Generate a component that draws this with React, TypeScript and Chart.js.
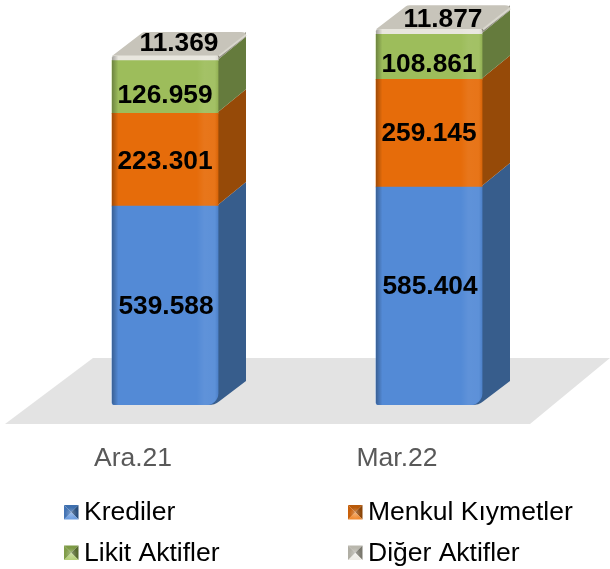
import React, { useEffect, useRef } from "react";
import { Chart, registerables } from "chart.js";

Chart.register(...registerables);

const categories = ["Ara.21", "Mar.22"];
const krediler = [539588, 585404];
const menkulKiymetler = [223301, 259145];
const likitAktifler = [126959, 108861];
const digerAktifler = [11369, 11877];
const seriesNames = ["Krediler", "Menkul Kıymetler", "Likit Aktifler", "Diğer Aktifler"];

const frontColors = ["#538ad6", "#e66c0a", "#9dbd5b", "#e8e6de"];
const sideColors = ["#375d8c", "#964a08", "#657b3d", "#8d8b7e"];
const topColor = "#c7c4ba";
const swatchShades = [
  ["#6c9de0", "#3e6fae", "#2a4f7e", "#4474b4"],
  ["#f08a30", "#b85a0a", "#8c4507", "#c9600a"],
  ["#b5d07a", "#7d9a45", "#56692f", "#809d49"],
  ["#eeece6", "#b9b7ad", "#7a786e", "#b0aea4"],
];

const AXIS_MIN = 60000;
const AXIS_MAX = 1036000;
const DEPTH_X = 28;
const DEPTH_Y = 24;
const FONT = "'Liberation Sans', Arial, sans-serif";
// label nudges [dx, dy] per dataset and per category, as hand placed in the source chart
const labelNudges = [
  [[1, 1], [1, -9]],
  [[0, 2], [0, 1]],
  [[0, 9], [0, 8]],
  [[14, -15], [14, -12]],
];

const fmt = (v: number) => String(v).replace(/\B(?=(\d{3})+$)/g, ".");

const bar3d = {
  id: "bar3d",
  beforeDatasetsDraw(chart: any) {
    const { ctx, chartArea } = chart;
    const b = chartArea.bottom;
    // floor
    ctx.save();
    ctx.fillStyle = "#e3e3e3";
    ctx.beginPath();
    ctx.moveTo(93, b - 47);
    ctx.lineTo(610, b - 47);
    ctx.lineTo(530, b + 19);
    ctx.lineTo(5, b + 19);
    ctx.closePath();
    ctx.fill();

    const n = chart.data.labels.length;
    for (let i = 0; i < n; i++) {
      chart.data.datasets.forEach((_: any, di: number) => {
        const el = chart.getDatasetMeta(di).data[i];
        const right = el.x + el.width / 2;
        const yt = el.y;
        const yb = el.base;
        ctx.fillStyle = sideColors[di];
        ctx.beginPath();
        if (di === 0) {
          ctx.moveTo(right - 10, yb);
          ctx.quadraticCurveTo(right - 3, yb, right + 1, yb - 3.5);
          ctx.lineTo(right + DEPTH_X, yb - DEPTH_Y);
        } else {
          ctx.moveTo(right - 1, yb);
          ctx.lineTo(right + 1, yb - 2);
          ctx.lineTo(right + DEPTH_X, yb - DEPTH_Y);
        }
        ctx.lineTo(right + DEPTH_X, yt - DEPTH_Y);
        ctx.lineTo(right + 1, yt - 2);
        ctx.lineTo(right - 1, yt);
        ctx.closePath();
        ctx.fill();
      });
      // top face
      const last = chart.getDatasetMeta(chart.data.datasets.length - 1).data[i];
      const l = last.x - last.width / 2;
      const r = last.x + last.width / 2;
      const y = last.y;
      ctx.fillStyle = topColor;
      ctx.beginPath();
      ctx.moveTo(l, y);
      ctx.lineTo(l + DEPTH_X + 2, y - DEPTH_Y + 1);
      ctx.quadraticCurveTo(l + DEPTH_X + 3, y - DEPTH_Y, l + DEPTH_X + 6, y - DEPTH_Y);
      ctx.lineTo(r + DEPTH_X - 5, y - DEPTH_Y);
      ctx.quadraticCurveTo(r + DEPTH_X, y - DEPTH_Y, r + DEPTH_X, y - DEPTH_Y + 3);
      ctx.lineTo(r, y);
      ctx.closePath();
      ctx.fill();
      // light edge of the top face
      ctx.strokeStyle = "#d9d7cd";
      ctx.lineWidth = 2;
      ctx.beginPath();
      ctx.moveTo(r + 1, y);
      ctx.lineTo(r + DEPTH_X, y - DEPTH_Y + 3);
      ctx.stroke();
    }
    ctx.restore();
  },
  afterDatasetsDraw(chart: any) {
    const { ctx } = chart;
    const n = chart.data.labels.length;
    ctx.save();
    for (let i = 0; i < n; i++) {
      const first = chart.getDatasetMeta(0).data[i];
      const last = chart.getDatasetMeta(chart.data.datasets.length - 1).data[i];
      const l = first.x - first.width / 2;
      const w = first.width;
      const g = ctx.createLinearGradient(l, 0, l + w, 0);
      g.addColorStop(0, "rgba(0,0,0,0.3)");
      g.addColorStop(0.02, "rgba(0,0,0,0.2)");
      g.addColorStop(0.06, "rgba(0,0,0,0)");
      g.addColorStop(0.8, "rgba(255,255,255,0)");
      g.addColorStop(0.87, "rgba(255,255,255,0.07)");
      g.addColorStop(0.97, "rgba(255,255,255,0.06)");
      g.addColorStop(1, "rgba(0,0,0,0.06)");
      ctx.fillStyle = g;
      ctx.beginPath();
      ctx.roundRect(l, last.y, w, first.base - last.y, [2, 2, 12, 3]);
      ctx.fill();
    }
    ctx.restore();
  },
  afterDraw(chart: any) {
    const { ctx } = chart;
    ctx.save();
    // value labels
    ctx.font = `bold 26.3px ${FONT}`;
    ctx.fillStyle = "#000";
    ctx.textAlign = "center";
    ctx.textBaseline = "middle";
    chart.data.datasets.forEach((ds: any, di: number) => {
      chart.getDatasetMeta(di).data.forEach((el: any, i: number) => {
        const [dx, dy] = labelNudges[di][i];
        ctx.fillText(fmt(ds.data[i]), el.x + dx, (el.y + el.base) / 2 + dy);
      });
    });
    // legend
    const cols = [64, 348];
    const rows = [505, 545.5];
    const size = 14.5;
    ctx.font = `26.5px ${FONT}`;
    ctx.textAlign = "left";
    chart.data.datasets.forEach((ds: any, di: number) => {
      const x = cols[di % 2];
      const y = rows[Math.floor(di / 2)];
      const [bottom, top, right, left] = swatchShades[di];
      const cx = x + size / 2;
      const cy = y + size / 2;
      const tri = (ax: number, ay: number, bx: number, by: number, c: string) => {
        ctx.fillStyle = c;
        ctx.beginPath();
        ctx.moveTo(ax, ay);
        ctx.lineTo(bx, by);
        ctx.lineTo(cx, cy);
        ctx.closePath();
        ctx.fill();
      };
      tri(x, y, x + size, y, top);
      tri(x + size, y, x + size, y + size, right);
      tri(x + size, y + size, x, y + size, bottom);
      tri(x, y + size, x, y, left);
      const glow = ctx.createRadialGradient(cx, cy + 1, 0, cx, cy + 1, size * 0.42);
      glow.addColorStop(0, "rgba(255,255,255,0.3)");
      glow.addColorStop(1, "rgba(255,255,255,0)");
      ctx.fillStyle = glow;
      ctx.fillRect(x, y, size, size);
      ctx.fillStyle = "#000";
      ctx.fillText(ds.label, x + size + 5.5, y + size / 2 + 0.5);
    });
    ctx.restore();
  },
};

export default function App() {
  const ref = useRef<HTMLCanvasElement>(null);
  useEffect(() => {
    document.body.style.margin = "0";
    const series = [krediler, menkulKiymetler, likitAktifler, digerAktifler];
    const chart = new Chart(ref.current as HTMLCanvasElement, {
      type: "bar",
      data: {
        labels: categories,
        datasets: series.map((data, i) => ({
          label: seriesNames[i],
          data,
          backgroundColor: frontColors[i],
          borderWidth: 0,
          borderSkipped: false,
          borderRadius:
            i === 0
              ? { topLeft: 0, topRight: 0, bottomLeft: 3, bottomRight: 12 }
              : i === 3
              ? { topLeft: 2, topRight: 2, bottomLeft: 0, bottomRight: 0 }
              : 0,
          barThickness: 106,
          ...(i === 0 ? { base: AXIS_MIN } : {}),
        })),
      },
      options: {
        responsive: false,
        animation: false,
        layout: { padding: { left: 33, right: 49, top: 0, bottom: 96 } },
        plugins: { legend: { display: false }, tooltip: { enabled: false } },
        scales: {
          x: {
            stacked: true,
            grid: { display: false },
            border: { display: false },
            afterFit: (s: any) => {
              s.height = 68;
            },
            ticks: {
              color: "#595959",
              font: { family: FONT, size: 26.5 },
              padding: 30,
              labelOffset: -32,
              maxRotation: 0,
              autoSkip: false,
            },
          },
          y: { stacked: true, display: false, min: AXIS_MIN, max: AXIS_MAX },
        },
      },
      plugins: [bar3d],
    } as any);
    return () => chart.destroy();
  }, []);
  return (
    <canvas
      ref={ref}
      width={610}
      height={569}
      style={{ position: "absolute", left: 0, top: 0, display: "block" }}
    />
  );
}
